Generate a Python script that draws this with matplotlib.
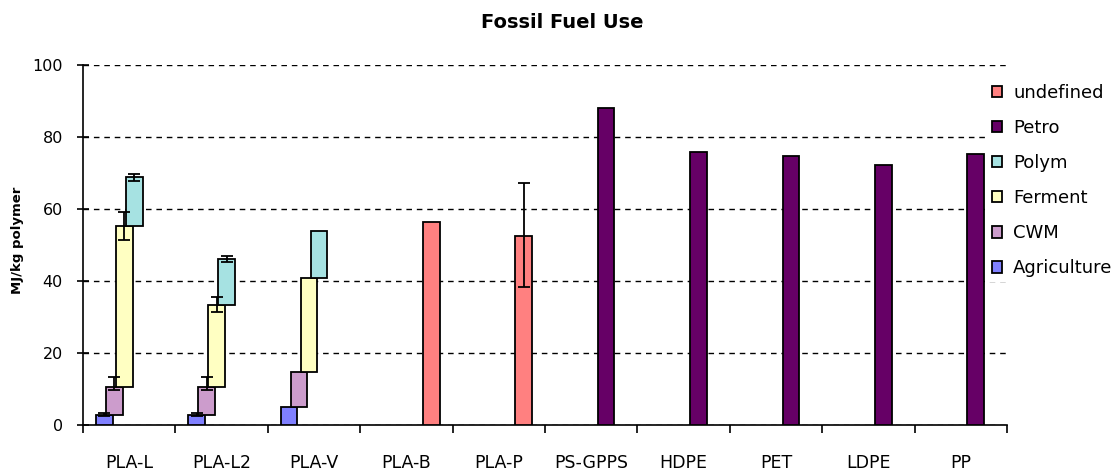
import numpy as np
import matplotlib
matplotlib.use("Agg")
import matplotlib.pyplot as plt
from matplotlib.patches import Patch

# -------------------------
# data (MJ / kg polymer)
# -------------------------
categories = ["PLA-L", "PLA-L2", "PLA-V", "PLA-B", "PLA-P",
              "PS-GPPS", "HDPE", "PET", "LDPE", "PP"]

# PLA-L, PLA-L2, PLA-V : contribution of each stage (waterfall)
agriculture = [2.7, 2.7, 5.1]
cwm = [7.9, 7.9, 9.7]
ferment = [44.7, 22.7, 26.1]
polym = [13.5, 12.8, 13.0]
# error bars on top of each stage (lower, upper)
agriculture_err = [(0.3, 0.6), (0.3, 0.6), (0, 0)]
cwm_err = [(0.9, 2.7), (0.9, 2.7), (0, 0)]
ferment_err = [(3.9, 4.0), (1.8, 2.2), (0, 0)]
polym_err = [(0.9, 0.8), (0.9, 0.9), (0, 0)]

# PLA-B, PLA-P
undefined = [56.3, 52.4]
undefined_err = [(0, 0), (14.0, 14.8)]

# PS-GPPS, HDPE, PET, LDPE, PP
petro = [88.1, 75.8, 74.7, 72.2, 75.3]

# -------------------------
# style
# -------------------------
colors = {
    "undefined": "#FF8080",
    "Petro": "#660066",
    "Polym": "#A6E2E2",
    "Ferment": "#FFFFC2",
    "CWM": "#CC9CCC",
    "Agriculture": "#8080FF",
}
order = ["Agriculture", "CWM", "Ferment", "Polym", "Petro", "undefined"]
step = 0.108
width = 0.18
offset = {name: (i - 2.5) * step for i, name in enumerate(order)}

plt.rcParams["font.family"] = "DejaVu Sans"

fig = plt.figure(figsize=(11.2, 4.72), dpi=100)
ax = fig.add_axes([83 / 1120, 1 - 425 / 472, (1007 - 83) / 1120, 360 / 472])

x = np.arange(len(categories))


def draw(name, xs, heights, bottoms, errs):
    ax.bar(xs + offset[name], heights, width, bottom=bottoms,
           color=colors[name], edgecolor="black", linewidth=1.3, zorder=3)
    for xi, h, b, (lo, hi) in zip(xs, heights, bottoms, errs):
        if lo == 0 and hi == 0:
            continue
        ax.errorbar(xi + offset[name], b + h, yerr=[[lo], [hi]],
                    fmt="none", ecolor="black", elinewidth=1.3,
                    capsize=4, capthick=1.3, zorder=4)


# waterfall for the PLA routes
pla_x = x[:3]
bottom = np.zeros(3)
for name, vals, errs in [("Agriculture", agriculture, agriculture_err),
                         ("CWM", cwm, cwm_err),
                         ("Ferment", ferment, ferment_err),
                         ("Polym", polym, polym_err)]:
    vals = np.array(vals)
    draw(name, pla_x, vals, bottom.copy(), errs)
    bottom += vals

draw("undefined", x[3:5], np.array(undefined), np.zeros(2), undefined_err)
draw("Petro", x[5:], np.array(petro), np.zeros(5), [(0, 0)] * 5)

# -------------------------
# axes
# -------------------------
ax.set_xlim(-0.5, len(categories) - 0.5)
ax.set_ylim(0, 100)
ax.set_yticks(np.arange(0, 101, 20))
ax.yaxis.grid(True, linestyle=(0, (4, 3.5)), color="black", linewidth=1.0)
ax.set_axisbelow(True)

ax.set_xticks(np.arange(-0.5, len(categories), 1.0))
ax.set_xticklabels([])
ax.set_xticks(x, minor=True)
ax.set_xticklabels(categories, minor=True, fontsize=12.5)
ax.tick_params(axis="x", which="major", direction="out", length=6, width=1.2)
ax.tick_params(axis="x", which="minor", length=0, pad=21)
ax.tick_params(axis="y", direction="inout", length=9, width=1.2,
               labelsize=11.5, pad=10)

ax.spines["top"].set_visible(False)
ax.spines["right"].set_visible(False)
ax.spines["left"].set_linewidth(1.2)
ax.spines["bottom"].set_linewidth(1.2)

fig.text(0.502, 1 - 22 / 472, "Fossil Fuel Use", ha="center", va="center",
         fontsize=14, fontweight="bold")
fig.text(18 / 1120, 1 - 240 / 472, "MJ/kg polymer", rotation=90,
         ha="center", va="center", fontsize=9.5, fontweight="bold")

legend_names = ["undefined", "Petro", "Polym", "Ferment", "CWM", "Agriculture"]
handles = [Patch(facecolor=colors[n], edgecolor="black", linewidth=1.3)
           for n in legend_names]
leg = fig.legend(handles, legend_names, loc="upper left",
                 bbox_to_anchor=(988 / 1120, 1 - 80 / 472),
                 fontsize=13, frameon=True, fancybox=False,
                 handlelength=0.6, handleheight=0.6, handletextpad=0.6,
                 labelspacing=0.95, borderpad=0.2, borderaxespad=0)
leg.get_frame().set_edgecolor("white")
leg.get_frame().set_facecolor("white")
leg.get_frame().set_alpha(1)

fig.savefig("out.png", dpi=100)
